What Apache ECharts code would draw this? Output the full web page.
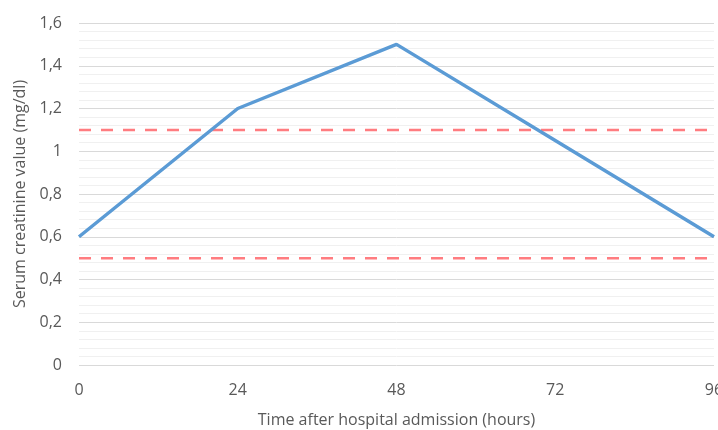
<!DOCTYPE html>
<html><head><meta charset="utf-8">
<script src="https://cdn.jsdelivr.net/npm/echarts@6/dist/echarts.min.js"></script>
<style>html,body{margin:0;padding:0;background:#fff}#c{width:718px;height:430px}</style>
</head><body><div id="c"></div>
<script>
const hours = [0, 24, 48, 72, 96];
const creatinine = [0.6, 1.2, 1.5, 1.05, 0.6];
const upperLimit = [1.1, 1.1];
const lowerLimit = [0.5, 0.5];
const limitHours = [0, 96];
const xTicks = [0, 24, 48, 72, 96];

const chart = echarts.init(document.getElementById('c'));
const font = '"Open Sans", "Liberation Sans", sans-serif';
chart.setOption({
  animation: false,
  grid: {left: 79, right: 4, top: 23, bottom: 65, containLabel: false, outerBoundsMode: 'none'},
  xAxis: {
    type: 'value', min: xTicks[0], max: xTicks[xTicks.length-1], interval: 24,
    name: 'Time after hospital admission (hours)', nameLocation: 'middle', nameGap: 47,
    nameTextStyle: {color: '#595959', fontSize: 16, fontFamily: font},
    axisLine: {show: false}, axisTick: {show: false}, splitLine: {show: false},
    axisLabel: {color: '#595959', fontSize: 16, fontFamily: font, margin: 17}
  },
  yAxis: {
    type: 'value', min: 0, max: 1.6, interval: 0.2,
    name: 'Serum creatinine value (mg/dl)', nameLocation: 'middle', nameGap: 50,
    nameTextStyle: {color: '#595959', fontSize: 16, fontFamily: font},
    axisLine: {show: false}, axisTick: {show: false},
    axisLabel: {color: '#595959', fontSize: 16, fontFamily: font, margin: 17,
      formatter: v => String(Math.round(v*10)/10).replace('.', ',')},
    splitLine: {lineStyle: {color: '#d9d9d9', width: 1}},
    minorTick: {show: false, splitNumber: 5},
    minorSplitLine: {show: true, lineStyle: {color: '#f0f0f0', width: 1}}
  },
  series: [
    {type: 'line', data: limitHours.map((h,i)=>[h, upperLimit[i]]), symbol: 'none',
     lineStyle: {color: '#ff7c80', width: 2.5, type: [12, 10]}},
    {type: 'line', data: limitHours.map((h,i)=>[h, lowerLimit[i]]), symbol: 'none',
     lineStyle: {color: '#ff7c80', width: 2.5, type: [12, 10]}},
    {type: 'line', data: hours.map((h,i)=>[h, creatinine[i]]), symbol: 'none',
     lineStyle: {color: '#5b9bd5', width: 3.5}}
  ]
});
</script></body></html>
